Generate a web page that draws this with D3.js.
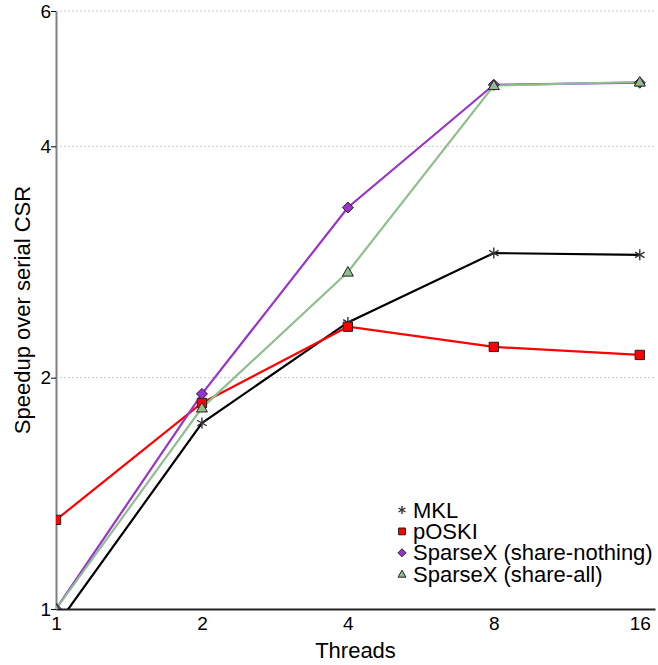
<!DOCTYPE html>
<html>
<head>
<meta charset="utf-8">
<script src="https://cdn.jsdelivr.net/npm/d3@7"></script>
<style>
  body { margin: 0; background: #fff; }
  text { font-family: "Liberation Sans", Arial, sans-serif; }
</style>
</head>
<body>
<div id="container"></div>
<script>
// data
const threads = [1, 2, 4, 8, 16];
const yTicks = [1, 2, 4, 6];
const seriesNames = ["MKL", "pOSKI", "SparseX (share-nothing)", "SparseX (share-all)"];
const mkl = [0.95, 1.746, 2.36, 2.905, 2.89];
const poski = [1.306, 1.854, 2.33, 2.193, 2.141];
const shareNothing = [1.0, 1.905, 3.33, 4.81, 4.84];
const shareAll = [1.0, 1.827, 2.745, 4.80, 4.85];

const width = 658, height = 665;
const margin = { top: 11, right: 3, bottom: 56, left: 56 };

const series = [
  { name: seriesNames[0], values: mkl, color: "#000000", marker: "asterisk" },
  { name: seriesNames[1], values: poski, color: "#ff0000", marker: "square" },
  { name: seriesNames[2], values: shareNothing, color: "#9933cc", marker: "diamond" },
  { name: seriesNames[3], values: shareAll, color: "#8fbf8f", marker: "triangle" }
];

const svg = d3.select("#container").append("svg")
  .attr("width", width)
  .attr("height", height);

const x = d3.scaleLog().base(2)
  .domain([1, 17.2])
  .range([margin.left, width - margin.right]);

const y = d3.scaleLog()
  .domain([1, 6])
  .range([height - margin.bottom, margin.top]);

// grid lines
svg.append("g")
  .selectAll("line")
  .data(yTicks.filter(d => d > 1))
  .join("line")
  .attr("x1", margin.left)
  .attr("x2", width - margin.right)
  .attr("y1", d => y(d))
  .attr("y2", d => y(d))
  .attr("stroke", "#bbb")
  .attr("stroke-width", 0.8)
  .attr("stroke-dasharray", "2,2");

// y axis
const yAxis = svg.append("g")
  .attr("transform", `translate(${margin.left},0)`)
  .call(d3.axisLeft(y).tickValues(yTicks).tickFormat(d3.format("d")).tickSize(5).tickSizeOuter(0));
yAxis.select(".domain").attr("stroke", "#808080").attr("stroke-width", 2);
yAxis.selectAll(".tick line").attr("stroke", "#000");
yAxis.selectAll(".tick text").attr("font-size", 19).attr("fill", "#000").attr("x", -5);

// x axis
const xAxis = svg.append("g")
  .attr("transform", `translate(0,${height - margin.bottom})`)
  .call(d3.axisBottom(x).tickValues(threads).tickFormat(d3.format("d")).tickSize(0).tickSizeOuter(0));
xAxis.select(".domain").attr("stroke", "#222").attr("stroke-width", 2);
xAxis.selectAll(".tick text").attr("font-size", 19).attr("fill", "#000").attr("dy", "0.95em");

// axis titles
svg.append("text")
  .attr("x", (margin.left + width - margin.right) / 2)
  .attr("y", 658)
  .attr("text-anchor", "middle")
  .attr("font-size", 22)
  .text("Threads");

svg.append("text")
  .attr("transform", `translate(30,${(margin.top + height - margin.bottom) / 2}) rotate(-90)`)
  .attr("text-anchor", "middle")
  .attr("font-size", 22)
  .text("Speedup over serial CSR");

// clip plot area
svg.append("clipPath").attr("id", "plot")
  .append("rect")
  .attr("x", margin.left)
  .attr("y", margin.top - 10)
  .attr("width", width - margin.left - margin.right)
  .attr("height", height - margin.top - margin.bottom + 10);

const line = d3.line()
  .x((d, i) => x(threads[i]))
  .y(d => y(d));

function drawMarker(g, type, color, r) {
  if (type === "asterisk") {
    [0, 60, 120].forEach(a => {
      const t = a * Math.PI / 180;
      g.append("line")
        .attr("x1", -r * Math.sin(t)).attr("y1", -r * Math.cos(t))
        .attr("x2", r * Math.sin(t)).attr("y2", r * Math.cos(t))
        .attr("stroke", "#333").attr("stroke-width", 1.4);
    });
    return;
  }
  let d;
  if (type === "square") {
    const s = r * 0.85;
    d = `M${-s},${-s}H${s}V${s}H${-s}Z`;
  } else if (type === "diamond") {
    d = `M0,${-r}L${r},0L0,${r}L${-r},0Z`;
  } else {
    d = `M0,${-r}L${r},${r * 0.75}L${-r},${r * 0.75}Z`;
  }
  g.append("path")
    .attr("d", d)
    .attr("fill", color)
    .attr("stroke", "#222")
    .attr("stroke-width", 1);
}

const plot = svg.append("g").attr("clip-path", "url(#plot)");

series.forEach(s => {
  plot.append("path")
    .datum(s.values)
    .attr("fill", "none")
    .attr("stroke", s.color)
    .attr("stroke-width", 2.2)
    .attr("d", line);
});

series.forEach(s => {
  s.values.forEach((v, i) => {
    const g = plot.append("g").attr("transform", `translate(${x(threads[i])},${y(v)})`);
    drawMarker(g, s.marker, s.color, 5.5);
  });
});

// legend
const legend = svg.append("g").attr("transform", "translate(402,510)");
series.forEach((s, i) => {
  const row = legend.append("g").attr("transform", `translate(0,${i * 21.4})`);
  drawMarker(row.append("g"), s.marker, s.color, 4);
  row.append("text")
    .attr("x", 11)
    .attr("y", 7.5)
    .attr("font-size", 22)
    .text(s.name);
});
</script>
</body>
</html>
